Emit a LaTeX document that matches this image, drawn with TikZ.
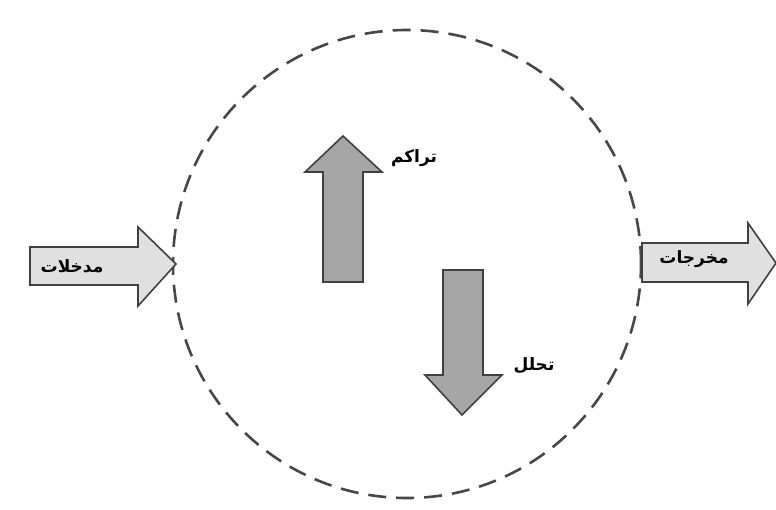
\documentclass[tikz,border=0pt]{standalone}
\usepackage{fontspec}
\newfontfamily\arabicfont[Script=Arabic,BoldFont={DejaVu Sans Bold}]{DejaVu Sans}
\TeXXeTstate=1
\begin{document}
\begin{tikzpicture}[x=1pt,y=-1pt,
  boundary/.style={draw=black!72, line width=2.6pt, dash pattern=on 18pt off 10pt},
  flowarrow/.style={draw=black!75, line width=1.6pt, fill=black!12, line join=miter},
  bigarrow/.style={draw=black!75, line width=1.6pt, fill=black!35, line join=miter},
  lbl/.style={font=\arabicfont\bfseries\fontsize{17}{19}\selectfont, inner sep=0pt}]
  \useasboundingbox (0,0) rectangle (776,509);
  % system boundary
  \node[circle, boundary, minimum size=468pt, inner sep=0pt] (sys) at (407,264) {};
  % inputs
  \draw[flowarrow] (30,247) -- (138,247) -- (138,227) -- (176,264) -- (138,306) -- (138,285) -- (30,285) -- cycle;
  \node[lbl] (in) at (72,266) {\beginR مدخلات\endR};
  % outputs
  \draw[flowarrow] (642,243) -- (748,243) -- (748,223) -- (776,263) -- (748,304) -- (748,282) -- (642,282) -- cycle;
  \node[lbl] (out) at (694,259) {\beginR مخرجات\endR};
  % accumulation
  \draw[bigarrow] (323,282) -- (323,172) -- (305,172) -- (343,136) -- (382,172) -- (363,172) -- (363,282) -- cycle;
  \node[lbl] (acc) at (414,158) {\beginR تراكم\endR};
  % decomposition
  \draw[bigarrow] (443,270) -- (483,270) -- (483,375) -- (502,375) -- (462,415) -- (425,375) -- (443,375) -- cycle;
  \node[lbl] (dec) at (534,366) {\beginR تحلل\endR};
\end{tikzpicture}
\end{document}
